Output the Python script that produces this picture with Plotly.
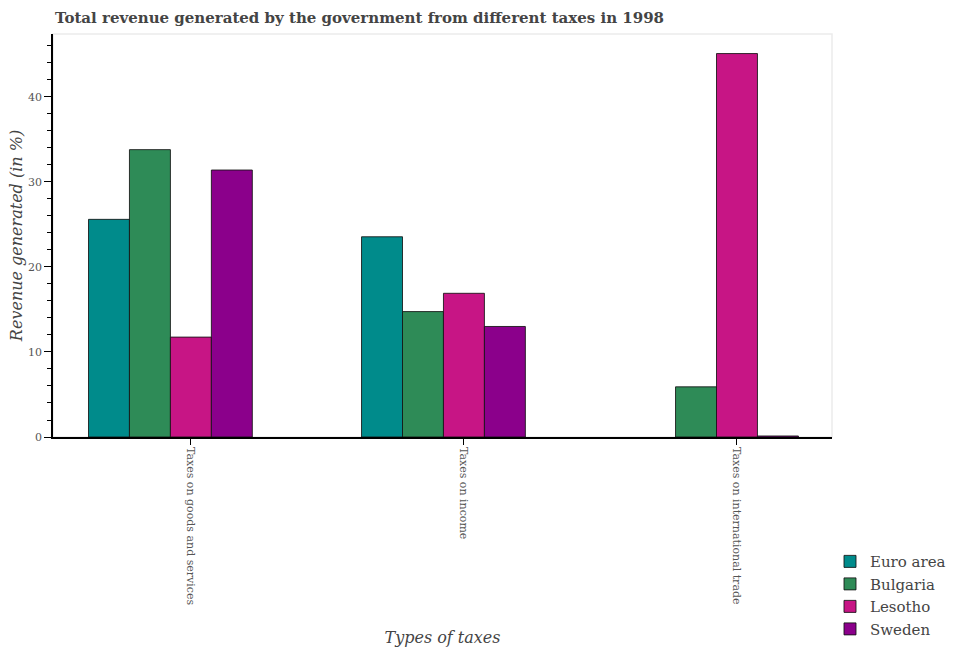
import plotly.graph_objects as go

categories = ["Taxes on goods and services", "Taxes on income", "Taxes on international trade"]
series_names = ["Euro area", "Bulgaria", "Lesotho", "Sweden"]
euro_area = [25.6, 23.55, None]
bulgaria = [33.8, 14.75, 5.9]
lesotho = [11.75, 16.9, 45.1]
sweden = [31.4, 13.0, 0.12]
colors = ["#008B8B", "#2E8B57", "#C71585", "#8B008B"]

series_values = [euro_area, bulgaria, lesotho, sweden]

W, H = 953, 650
L, R, T, B = 53, 832, 34, 437
bar_w = 0.15

fig = go.Figure()
for j, (name, vals, col) in enumerate(zip(series_names, series_values, colors)):
    xs = [i + (j - 2) * bar_w for i in range(len(categories))]
    fig.add_trace(go.Bar(
        x=xs, y=vals, name=name, width=bar_w,
        marker=dict(color=col, line=dict(color="rgba(20,20,20,0.85)", width=1)),
    ))

serif = "DejaVu Serif"
fig.update_layout(
    width=W, height=H,
    barmode="overlay",
    paper_bgcolor="white", plot_bgcolor="white",
    margin=dict(l=L, r=W - R, t=T, b=H - B, pad=0, autoexpand=False),
    font=dict(family=serif, color="#555555", size=11),
    title=dict(
        text="<b>Total revenue generated by the government from different taxes in 1998</b>",
        x=55 / W, xanchor="left", xref="container",
        y=1 - 18 / H, yanchor="middle", yref="container",
        font=dict(family=serif, size=15, color="#444444"),
    ),
    showlegend=True,
    legend=dict(
        xref="container", yref="container",
        x=830 / W, xanchor="left", y=0.0075, yanchor="bottom",
        font=dict(family=serif, size=15, color="#444444"),
        bgcolor="rgba(0,0,0,0)",
    ),
    xaxis=dict(
        tickmode="array", tickvals=list(range(len(categories))), ticktext=categories,
        range=[-0.505, 2.348], tickangle=90,
        showline=True, linecolor="black", linewidth=1.5,
        ticks="outside", ticklen=6, tickcolor="black",
        showgrid=False, zeroline=False,
        tickfont=dict(family=serif, size=11, color="#555555"),
        title=dict(text="<i>Types of taxes</i>", font=dict(family=serif, size=16, color="#444444"), standoff=27),
    ),
    yaxis=dict(
        range=[0, 47.4], dtick=10,
        showline=True, linecolor="black", linewidth=1.5,
        ticks="outside", ticklen=7, tickcolor="black",
        minor=dict(dtick=2, ticks="outside", ticklen=4, tickcolor="black"),
        showgrid=False, zeroline=False,
        tickfont=dict(family=serif, size=11, color="#555555"),
        title=dict(text="<i>Revenue generated (in %)</i>", font=dict(family=serif, size=16, color="#444444"), standoff=1),
    ),
    shapes=[dict(type="rect", xref="paper", yref="paper", x0=0, x1=1, y0=0, y1=1,
                 line=dict(color="#ebebeb", width=1.5), layer="below")],
)

fig.write_html("out.html", config={"displayModeBar": False},
               post_script="document.body.style.margin='0';")
